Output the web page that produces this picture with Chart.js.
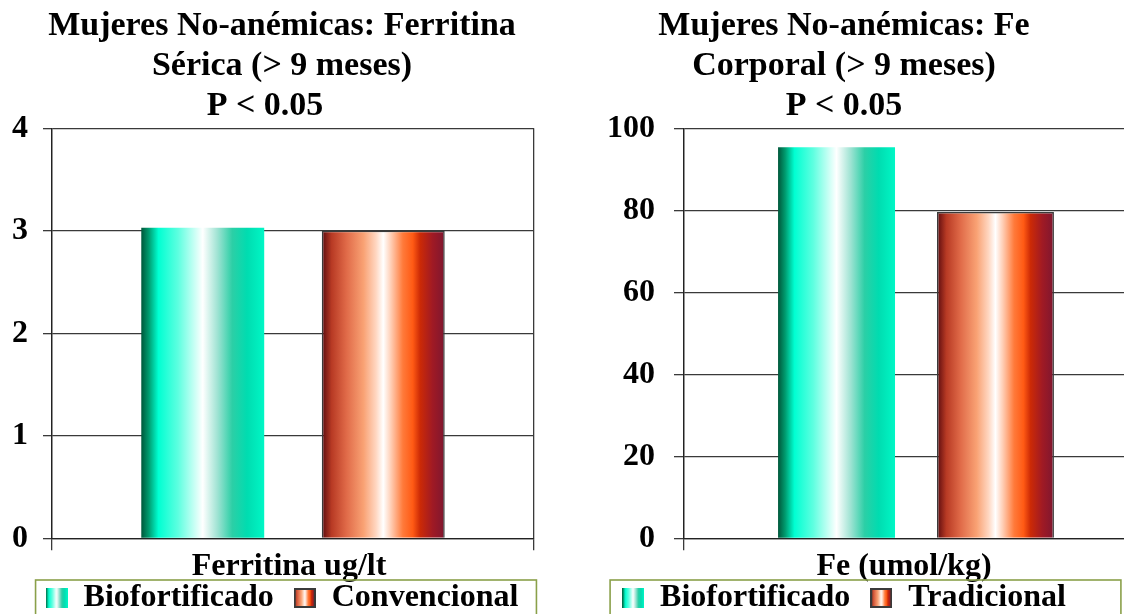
<!DOCTYPE html>
<html>
<head>
<meta charset="utf-8">
<script src="https://cdn.jsdelivr.net/npm/chart.js@4.4.1/dist/chart.umd.min.js"></script>
<style>
  html, body { margin: 0; padding: 0; background: #fff; width: 1124px; height: 614px; overflow: hidden; position: relative; }
  canvas { position: absolute; top: 0; }
  #ferritina { left: 0; }
  #fe { left: 540px; }
</style>
</head>
<body>
<canvas id="ferritina" width="570" height="624"></canvas>
<canvas id="fe" width="608" height="624"></canvas>
<script>
// ---- data ----
const ferritinaTitle = ['Mujeres No-anémicas: Ferritina', 'Sérica (> 9 meses)', 'P < 0.05    '];
const ferritinaCategory = ['Ferritina ug/lt '];
const ferritinaSeries = ['Biofortificado', 'Convencional'];
const ferritinaValues = [3.03, 3.0];
const ferritinaTicks = [0, 1, 2, 3, 4];

const feTitle = ['Mujeres No-anémicas: Fe', 'Corporal (> 9 meses)', 'P < 0.05'];
const feCategory = ['Fe (umol/kg)   '];
const feSeries = ['Biofortificado', 'Tradicional'];
const feValues = [95.4, 79.6];
const feTicks = [0, 20, 40, 60, 80, 100];

// ---- look ----
const SERIF = "'Liberation Serif', 'Times New Roman', serif";
const tealStops = [[0, '#00573a'], [0.06, '#009a6e'], [0.14, '#00ffd2'], [0.3, '#5effe0'], [0.5, '#ffffff'],
  [0.62, '#9fe3d3'], [0.74, '#2ccfa6'], [0.86, '#00dcb0'], [1, '#00f7c6']];
const orangeStops = [[0, '#5a0a0e'], [0.08, '#b83a24'], [0.2, '#e06a48'], [0.34, '#f9a274'], [0.44, '#ffd6c0'],
  [0.5, '#ffffff'], [0.56, '#ffd0b8'], [0.66, '#ff7a3a'], [0.74, '#ff5a14'], [0.8, '#cc2a06'], [0.9, '#a01a24'], [1, '#7e1630']];
const seriesStyles = [
  { stops: tealStops, border: null },
  { stops: orangeStops, border: '#3a3a3a' }
];

Chart.defaults.font.family = SERIF;
Chart.defaults.color = '#000';

function addStops(g, stops) {
  stops.forEach(([o, c]) => g.addColorStop(o, c));
  return g;
}

// horizontal gradient spanning the bar that the bar controller will lay out
function barFill(stops) {
  return (c) => {
    const chart = c.chart;
    const xs = chart.scales && chart.scales.x;
    if (!chart.chartArea || !xs || c.type !== 'data') return stops[Math.floor(stops.length / 2)][1];
    const ds = chart.data.datasets;
    const n = chart.data.labels.length;
    const cp = ds[c.datasetIndex].categoryPercentage;
    const bp = ds[c.datasetIndex].barPercentage;
    const catW = (xs.width / n) * cp;
    const chunk = catW / ds.length;
    const center = xs.getPixelForValue(c.dataIndex) - catW / 2 + chunk * (c.datasetIndex + 0.5);
    const w = chunk * bp;
    return addStops(chart.ctx.createLinearGradient(center - w / 2, 0, center + w / 2, 0), stops);
  };
}

function swatch(style) {
  const cv = document.createElement('canvas');
  cv.width = 22; cv.height = 20;
  const g = cv.getContext('2d');
  g.fillStyle = addStops(g.createLinearGradient(0, 0, 22, 0), style.stops);
  g.fillRect(0, 0, 22, 20);
  if (style.border) {
    g.strokeStyle = style.border; g.lineWidth = 2;
    g.strokeRect(1, 1, 20, 18);
  }
  return cv;
}

const legendFrame = {
  id: 'legendFrame',
  afterDraw(chart, args, opts) {
    const boxes = chart.legend && chart.legend.legendHitBoxes;
    if (!boxes || !boxes.length) return;
    const first = boxes[0], last = boxes[boxes.length - 1];
    const x0 = first.left - opts.padLeft;
    const x1 = last.left + last.width + opts.padRight;
    const y0 = first.top - opts.padTop;
    const ctx = chart.ctx;
    ctx.save();
    ctx.strokeStyle = opts.color;
    ctx.lineWidth = opts.width;
    ctx.strokeRect(x0, y0, x1 - x0, chart.height - y0 + 10);
    ctx.restore();
  }
};

function makeChart(id, cfg) {
  const swatches = seriesStyles.map(swatch);
  const scales = {
    x: {
      type: 'category',
      offset: true,
      grid: { offset: true, color: '#3a3a3a', lineWidth: 1.3, tickLength: 12, drawTicks: true },
      border: { display: true, color: '#222', width: 1.3 },
      ticks: { display: false },
      title: {
        display: true, text: cfg.category[0], color: '#000',
        font: { family: SERIF, size: 32, weight: 'bold', lineHeight: 1.0 },
        padding: { top: 0, bottom: -20.3 }
      }
    },
    y: {
      min: cfg.ticks[0],
      max: cfg.ticks[cfg.ticks.length - 1],
      ticks: {
        stepSize: cfg.ticks[1] - cfg.ticks[0],
        padding: cfg.tickPad,
        color: '#000',
        font: { family: SERIF, size: 32, weight: 'bold' }
      },
      grid: { color: '#3a3a3a', lineWidth: 1.3, tickLength: cfg.tickLen },
      border: { display: true, color: '#222', width: 1.3 },
      afterFit(s) { s.width = cfg.yWidth; }
    }
  };
  if (cfg.rightGap) {
    scales.gap = {
      type: 'linear', position: 'right', display: true,
      grid: { display: false }, border: { display: false }, ticks: { display: false },
      afterFit(s) { s.width = cfg.rightGap; }
    };
  }
  return new Chart(document.getElementById(id), {
    type: 'bar',
    data: {
      labels: cfg.category,
      datasets: cfg.series.map((name, i) => ({
        label: name,
        data: [cfg.values[i]],
        backgroundColor: barFill(seriesStyles[i].stops),
        borderColor: seriesStyles[i].border || 'rgba(0,0,0,0)',
        borderWidth: seriesStyles[i].border ? 1.5 : 0,
        categoryPercentage: cfg.cp,
        barPercentage: cfg.bp
      }))
    },
    options: {
      responsive: false,
      devicePixelRatio: 1,
      animation: false,
      events: [],
      layout: { padding: { left: 0, right: cfg.padRight, top: 0, bottom: 0 } },
      scales,
      plugins: {
        tooltip: { enabled: false },
        title: {
          display: true, text: cfg.title, color: '#000',
          font: { family: SERIF, size: 34, weight: 'bold', lineHeight: 1.17 },
          padding: { top: 6.4, bottom: 2.6 }
        },
        legend: {
          position: 'bottom',
          labels: {
            usePointStyle: true, boxWidth: 22, boxHeight: 20, padding: 20, color: '#000',
            font: { family: SERIF, size: 32, weight: 'bold' },
            generateLabels: (chart) => chart.data.datasets.map((d, i) => ({
              text: d.label, pointStyle: swatches[i], fillStyle: '#000', strokeStyle: '#000',
              lineWidth: 0, hidden: false, datasetIndex: i
            }))
          }
        },
        legendFrame: { color: '#8aa04a', width: 1.6, padLeft: cfg.framePadLeft, padRight: cfg.framePadRight, padTop: 2 }
      }
    },
    plugins: [legendFrame]
  });
}

makeChart('ferritina', {
  title: ferritinaTitle, category: ferritinaCategory, series: ferritinaSeries,
  values: ferritinaValues, ticks: ferritinaTicks,
  yWidth: 52, rightGap: 30, padRight: 6, tickLen: 9, tickPad: 15, cp: 0.749, bp: 0.681,
  framePadLeft: 10, framePadRight: 18
});

makeChart('fe', {
  title: feTitle, category: feCategory, series: feSeries,
  values: feValues, ticks: feTicks,
  yWidth: 144, rightGap: 0, padRight: 0, tickLen: 10, tickPad: 19, cp: 0.685, bp: 0.736,
  framePadLeft: 12, framePadRight: 55
});
</script>
</body>
</html>
